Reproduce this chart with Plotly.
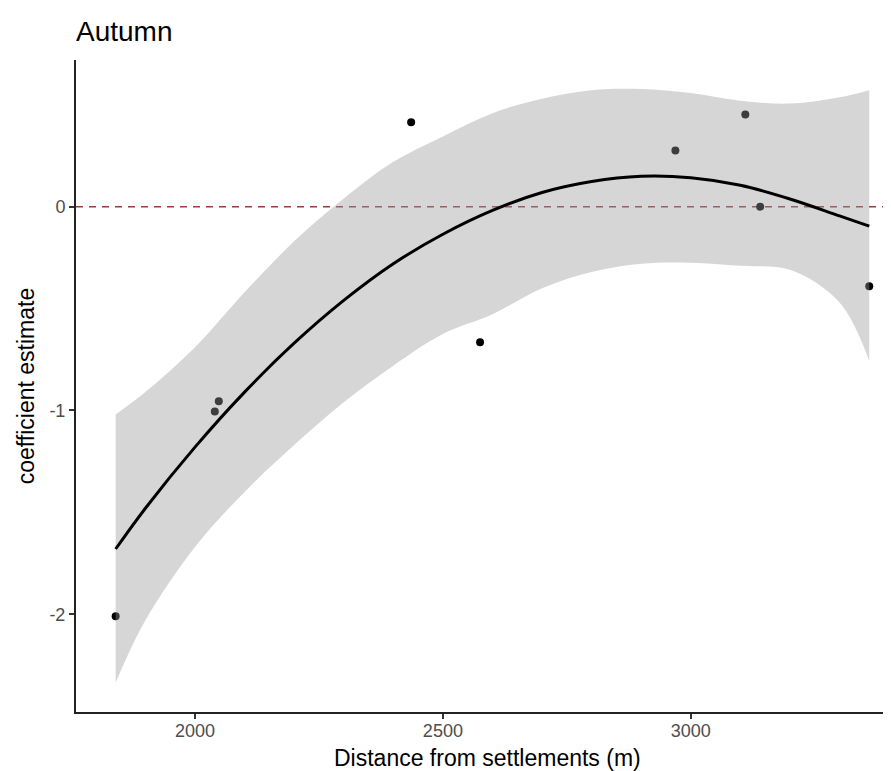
import plotly.graph_objects as go

# Observed points
x_pts = [1840, 2040, 2048, 2436, 2575, 2969, 3110, 3140, 3360]
y_pts = [-2.01, -1.005, -0.955, 0.414, -0.665, 0.276, 0.453, 0.0, -0.39]

# Fitted curve and confidence band
x_fit = [1840, 1900, 2000, 2100, 2200, 2300, 2400, 2500, 2600, 2700, 2800, 2900, 3000, 3100, 3200, 3300, 3360]
y_fit = [-1.68, -1.48, -1.18, -0.91, -0.67, -0.46, -0.28, -0.135, -0.018, 0.07, 0.124, 0.149, 0.142, 0.105, 0.038, -0.045, -0.095]
y_upper = [-1.02, -0.91, -0.69, -0.42, -0.17, 0.04, 0.22, 0.345, 0.459, 0.53, 0.572, 0.578, 0.558, 0.52, 0.506, 0.537, 0.572]
y_lower = [-2.335, -2.03, -1.67, -1.40, -1.17, -0.96, -0.78, -0.625, -0.528, -0.40, -0.32, -0.28, -0.275, -0.29, -0.31, -0.47, -0.756]

x_ticks = [2000, 2500, 3000]
x_ticklabels = ["2000", "2500", "3000"]
y_ticks = [-2, -1, 0]
y_ticklabels = ["-2", "-1", "0"]

x_range = [1760, 3420]
y_range = [-2.48, 0.72]

FONT = "Liberation Sans, Arial, sans-serif"

W, H = 891, 771
ML, MR, MT, MB = 68, 0, 52, 67
plot_h = H - MT - MB

fig = go.Figure()

# reference line at zero
fig.add_trace(go.Scatter(
    x=x_range, y=[0, 0], mode="lines",
    line=dict(color="#9E3B3B", width=1.5, dash="7px,6px"),
    hoverinfo="skip", showlegend=False))

# points
fig.add_trace(go.Scatter(
    x=x_pts, y=y_pts, mode="markers",
    marker=dict(color="black", size=8),
    showlegend=False))

# ribbon
fig.add_trace(go.Scatter(
    x=x_fit, y=y_lower, mode="lines", line=dict(width=0, shape="spline"),
    hoverinfo="skip", showlegend=False))
fig.add_trace(go.Scatter(
    x=x_fit, y=y_upper, mode="lines", line=dict(width=0, shape="spline"),
    fill="tonexty", fillcolor="rgba(153,153,153,0.4)",
    hoverinfo="skip", showlegend=False))

# fitted line
fig.add_trace(go.Scatter(
    x=x_fit, y=y_fit, mode="lines",
    line=dict(color="black", width=3, shape="spline"),
    showlegend=False))

fig.update_layout(
    width=W, height=H,
    margin=dict(l=ML, r=MR, t=MT, b=MB),
    paper_bgcolor="white", plot_bgcolor="white",
    font=dict(family=FONT),
    title=dict(text="Autumn", x=ML / W, xanchor="left",
               y=1 - 23 / H, yanchor="middle", yref="container",
               font=dict(size=28, color="black", family=FONT)),
    xaxis=dict(range=x_range, tickvals=x_ticks, ticktext=x_ticklabels,
               showgrid=False, zeroline=False,
               showline=True, linecolor="#222222", linewidth=2,
               ticks="outside", ticklen=5, tickwidth=1.5, tickcolor="#333333",
               ticklabelstandoff=-4,
               tickfont=dict(size=18, color="#4D4D4D")),
    yaxis=dict(range=y_range, tickvals=y_ticks, ticktext=y_ticklabels,
               showgrid=False, zeroline=False,
               showline=True, linecolor="#222222", linewidth=2,
               ticks="outside", ticklen=5, tickwidth=1.5, tickcolor="#333333",
               tickfont=dict(size=18, color="#4D4D4D"),
               title=dict(text="coefficient estimate", standoff=8,
                          font=dict(size=23, color="black"))),
    annotations=[dict(
        text="Distance from settlements (m)", xref="paper", yref="paper",
        x=0.5, y=-(750 - (H - MB)) / plot_h, xanchor="center", yanchor="middle",
        showarrow=False, font=dict(size=23, color="black", family=FONT))],
)

fig.write_html("out.html")
